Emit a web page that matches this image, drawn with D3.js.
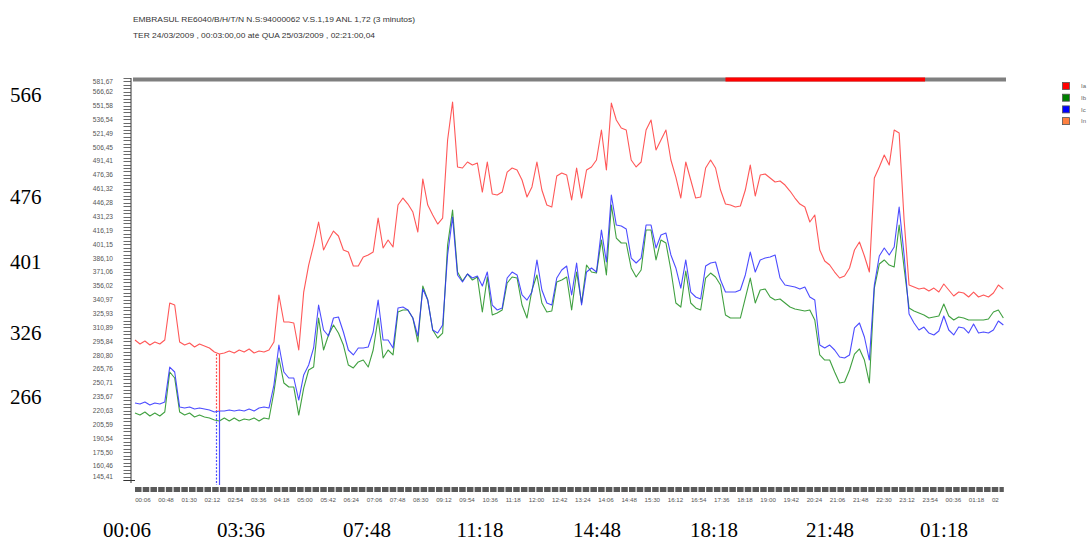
<!DOCTYPE html>
<html>
<head>
<meta charset="utf-8">
<script src="https://cdn.jsdelivr.net/npm/d3@7/dist/d3.min.js"></script>
<style>
  html, body { margin: 0; padding: 0; background: #fff; }
  svg { display: block; }
</style>
</head>
<body>
<svg id="chart" width="1090" height="543"></svg>
<script>
// Sample times in minutes after 00:00 on 24/03 (one sample every 9 minutes)
const times = d3.range(3, 1579, 9);

// Phase currents (A)
const ia = [
  297.3, 293.0, 296.2, 291.9, 295.2, 293.0, 297.3, 337.5, 335.3, 295.2,
  291.9, 294.1, 289.7, 293.0, 290.8, 288.7, 284.3, 282.1, 283.2, 285.4,
  283.2, 286.5, 284.3, 287.6, 283.2, 285.4, 284.3, 286.5, 295.2, 346.2,
  316.9, 316.9, 315.8, 286.5, 349.4, 378.7, 400.4, 425.4, 395.0, 405.9,
  415.6, 410.2, 395.0, 392.8, 377.6, 377.6, 387.4, 389.6, 392.8, 429.7,
  397.2, 405.9, 398.3, 443.8, 451.4, 444.9, 436.2, 414.5, 472.1, 443.8,
  433.0, 423.2, 429.7, 514.4, 555.6, 485.1, 484.0, 490.5, 487.2, 489.4,
  457.9, 490.5, 455.8, 454.7, 457.9, 479.6, 484.0, 481.8, 471.0, 452.5,
  463.4, 490.5, 460.1, 443.8, 441.7, 475.3, 478.6, 476.4, 449.3, 484.0,
  451.4, 481.8, 485.1, 492.7, 525.2, 481.8, 554.5, 536.1, 527.4, 525.2,
  492.7, 485.1, 490.5, 525.2, 536.1, 503.5, 514.4, 525.2, 492.7, 474.2,
  451.4, 490.5, 471.0, 451.4, 452.5, 484.0, 492.7, 484.0, 460.1, 444.9,
  443.8, 441.7, 442.8, 460.1, 487.2, 453.6, 476.4, 477.5, 473.1, 468.8,
  469.9, 465.5, 459.0, 451.4, 444.9, 441.7, 425.4, 433.0, 395.0, 383.1,
  378.7, 371.1, 364.6, 366.8, 375.5, 395.0, 403.7, 388.5, 371.1, 473.1,
  485.1, 498.1, 487.2, 525.2, 521.9, 427.6, 357.0, 354.8, 352.6, 353.7,
  350.5, 353.7, 349.4, 358.1, 351.6, 345.1, 349.4, 348.3, 344.0, 349.4,
  344.0, 346.2, 344.0, 348.3, 357.0, 352.6
];
const ib = [
  218.1, 215.9, 219.2, 214.9, 218.1, 214.9, 219.2, 262.6, 256.1, 219.2,
  215.9, 218.1, 213.8, 215.9, 213.8, 212.7, 210.5, 209.4, 212.7, 209.4,
  212.7, 209.4, 211.6, 210.5, 212.7, 209.4, 212.7, 211.6, 240.9, 277.8,
  250.7, 246.3, 246.3, 215.9, 245.2, 264.8, 268.0, 321.2, 286.5, 302.8,
  313.6, 304.9, 291.9, 270.2, 267.0, 273.5, 275.6, 268.0, 286.5, 321.2,
  277.8, 286.5, 281.1, 327.7, 329.9, 329.9, 321.2, 295.2, 355.9, 340.7,
  308.2, 299.5, 304.9, 400.4, 438.4, 371.1, 361.4, 369.0, 362.4, 365.7,
  327.7, 365.7, 324.5, 326.6, 329.9, 359.2, 365.7, 364.6, 335.3, 321.2,
  351.6, 367.9, 337.5, 327.7, 328.8, 360.3, 362.4, 365.7, 329.9, 371.1,
  337.5, 378.7, 371.1, 370.0, 405.9, 367.9, 443.8, 408.0, 402.6, 402.6,
  375.5, 365.7, 373.3, 416.7, 416.7, 384.2, 405.9, 402.6, 373.3, 337.5,
  333.1, 372.2, 337.5, 332.1, 329.9, 364.6, 370.0, 365.7, 357.0, 324.5,
  321.2, 321.2, 321.2, 342.9, 364.6, 337.5, 351.6, 352.6, 344.0, 340.7,
  341.8, 337.5, 333.1, 331.0, 329.9, 328.8, 329.9, 319.0, 281.1, 275.6,
  275.6, 262.6, 250.7, 251.8, 264.8, 282.1, 287.6, 275.6, 250.7, 353.7,
  379.8, 384.2, 378.7, 376.6, 422.1, 375.5, 332.1, 328.8, 326.6, 324.5,
  321.2, 322.3, 323.4, 336.4, 323.4, 319.0, 322.3, 321.2, 319.0, 319.0,
  319.0, 319.0, 320.1, 327.7, 329.9, 321.2
];
const ic = [
  229.0, 227.9, 230.1, 226.8, 229.0, 227.9, 230.1, 268.0, 262.6, 224.6,
  223.5, 224.6, 222.4, 223.5, 222.4, 221.4, 219.2, 220.3, 220.3, 221.4,
  220.3, 221.4, 220.3, 222.4, 220.3, 223.5, 224.6, 223.5, 248.5, 291.9,
  262.6, 256.1, 256.1, 232.2, 259.4, 270.2, 288.7, 335.3, 308.2, 301.7,
  321.2, 322.3, 306.0, 286.5, 281.1, 288.7, 288.7, 289.7, 306.0, 340.7,
  297.3, 297.3, 288.7, 332.1, 333.1, 329.9, 321.2, 301.7, 352.6, 340.7,
  308.2, 304.9, 313.6, 389.6, 430.8, 367.9, 360.3, 369.0, 364.6, 366.8,
  355.9, 371.1, 335.3, 329.9, 332.1, 364.6, 371.1, 367.9, 346.2, 340.7,
  349.4, 384.2, 351.6, 337.5, 335.3, 364.6, 373.3, 377.6, 346.2, 380.9,
  335.3, 371.1, 375.5, 371.1, 416.7, 382.0, 454.7, 422.1, 421.0, 417.8,
  386.3, 380.9, 386.3, 422.1, 422.1, 397.2, 411.3, 413.4, 389.6, 375.5,
  353.7, 384.2, 349.4, 344.0, 341.8, 377.6, 380.9, 382.0, 362.4, 349.4,
  349.4, 349.4, 351.6, 367.9, 392.8, 371.1, 384.2, 386.3, 387.4, 389.6,
  364.6, 357.0, 355.9, 354.8, 352.6, 354.8, 344.0, 340.7, 291.9, 288.7,
  291.9, 286.5, 278.9, 277.8, 281.1, 310.4, 315.8, 300.6, 275.6, 357.0,
  388.5, 397.2, 389.6, 398.3, 441.7, 389.6, 325.5, 315.8, 308.2, 311.4,
  304.9, 302.8, 307.1, 323.4, 308.2, 302.8, 311.4, 310.4, 304.9, 314.7,
  304.9, 306.0, 304.9, 308.2, 318.0, 313.6
];

// Axis ticks
const yTicks = [145.41, 160.46, 175.50, 190.54, 205.59, 220.63, 235.67, 250.71, 265.76, 280.80,
  295.84, 310.89, 325.93, 340.97, 356.02, 371.06, 386.10, 401.15, 416.19, 431.23,
  446.28, 461.32, 476.36, 491.41, 506.45, 521.49, 536.54, 551.58, 566.62, 581.67];
const xTickLabels = ["00:06","00:48","01:30","02:12","02:54","03:36","04:18","05:00","05:42","06:24",
  "07:06","07:48","08:30","09:12","09:54","10:36","11:18","12:00","12:42","13:24",
  "14:06","14:48","15:30","16:12","16:54","17:36","18:18","19:00","19:42","20:24",
  "21:06","21:48","22:30","23:12","23:54","00:36","01:18","02"];
const xTickTimes = d3.range(6, 1561, 42);

// Legend
const legendNames = ["Ia", "Ib", "Ic", "In"];
const legendColors = ["#ff0000", "#008000", "#0000ff", "#ff8040"];

// Header
const titleLines = [
  "EMBRASUL RE6040/B/H/T/N N.S:94000062  V.S.1,19 ANL 1,72 (3 minutos)",
  "TER 24/03/2009 , 00:03:00,00 até QUA 25/03/2009 , 02:21:00,04"
];

// Large annotation labels
const bigYLabels = ["566", "476", "401", "326", "266"];
const bigXLabels = ["00:06", "03:36", "07:48", "11:18", "14:48", "18:18", "21:48", "01:18"];

// Cursor marks and highlighted time window (minutes)
const cursorTimes = [150, 156];
const alarmWindow = [1074, 1436];

// ---------- layout ----------
const W = 1090, H = 543;
const plot = { left: 135, right: 1005, top: 78, bottom: 480 };
const bigYLabelPos = [95, 197, 262, 333, 397];
const bigXLabelPos = [127, 241, 367, 480, 597, 714, 830, 944];

const svg = d3.select("#chart");
svg.append("rect").attr("width", W).attr("height", H).attr("fill", "#fff");

const x = d3.scaleLinear().domain([3, 1581]).range([plot.left, plot.right]);
const y = d3.scaleLinear().domain([145.41, 581.67]).range([plot.bottom, plot.top]);

// header text
svg.selectAll("text.title").data(titleLines).join("text")
  .attr("class", "title")
  .attr("x", 133).attr("y", (d, i) => 22 + i * 15.5)
  .attr("font-family", "Liberation Sans, Arial, sans-serif")
  .attr("font-size", 7.6)
  .attr("fill", "#333")
  .attr("textLength", (d, i) => i === 0 ? 282 : 242)
  .attr("lengthAdjust", "spacingAndGlyphs")
  .text(d => d);

// top status bar
svg.append("rect").attr("x", 133).attr("y", 77.5).attr("width", 873).attr("height", 4).attr("fill", "#7f7f7f");
svg.append("rect").attr("x", x(alarmWindow[0])).attr("y", 77.5)
  .attr("width", x(alarmWindow[1]) - x(alarmWindow[0])).attr("height", 4).attr("fill", "#ff0000");

// y axis: comb of minor ticks plus labels
const yAxisX = 131;
const minorStep = (yTicks[1] - yTicks[0]) / 4;
const minorTicks = d3.range(0, 117).map(k => yTicks[0] + k * minorStep);
const gy = svg.append("g");
gy.append("line").attr("x1", yAxisX).attr("x2", yAxisX).attr("y1", plot.top).attr("y2", plot.bottom + 3)
  .attr("stroke", "#333").attr("stroke-width", 1);
gy.selectAll("line.minor").data(minorTicks).join("line")
  .attr("class", "minor")
  .attr("x1", 123.5).attr("x2", yAxisX)
  .attr("y1", d => Math.round(y(d)) + 0.5).attr("y2", d => Math.round(y(d)) + 0.5)
  .attr("stroke", "#444").attr("stroke-width", 0.8);
gy.append("line").attr("x1", 123.5).attr("x2", 135).attr("y1", plot.bottom + 0.5).attr("y2", plot.bottom + 0.5)
  .attr("stroke", "#333");
gy.selectAll("text").data(yTicks).join("text")
  .attr("x", 113).attr("y", d => Math.min(Math.max(y(d), 82), 477))
  .attr("dy", "0.35em")
  .attr("text-anchor", "end")
  .attr("font-family", "Liberation Sans, Arial, sans-serif")
  .attr("font-size", 6.6)
  .attr("fill", "#555")
  .text(d => d3.format(".2f")(d).replace(".", ","));

// x axis: dark tick band plus time labels
const gx = svg.append("g");
const bandTimes = d3.range(3, 1581, 14);
gx.selectAll("rect.band").data(bandTimes).join("rect")
  .attr("class", "band")
  .attr("x", d => x(d)).attr("y", 487)
  .attr("width", d => Math.max(0, Math.min(x(d + 14), plot.right) - x(d) - 1.2))
  .attr("height", 5)
  .attr("fill", "#5a5a5a");
gx.selectAll("text").data(xTickLabels).join("text")
  .attr("x", (d, i) => x(xTickTimes[i]) - 1.5)
  .attr("y", 502)
  .attr("font-family", "Liberation Sans, Arial, sans-serif")
  .attr("font-size", 6.2)
  .attr("fill", "#555")
  .text(d => d);

// series lines
const line = vals => d3.line().x((d, i) => x(times[i])).y(d => y(d))(vals);
const series = [
  { vals: ia, color: "#ff3a3a" },
  { vals: ib, color: "#1f8f1f" },
  { vals: ic, color: "#2d2dff" }
];
svg.append("g").selectAll("path").data(series).join("path")
  .attr("d", d => line(d.vals))
  .attr("fill", "none")
  .attr("stroke", d => d.color)
  .attr("stroke-width", 1.1)
  .attr("stroke-opacity", 0.85)
  .attr("stroke-linejoin", "round");

// cursor marks
const valueAt = (arr, t) => arr[d3.bisectLeft(times, t)];
cursorTimes.forEach((t, k) => {
  const cx = Math.round(x(t)) + 0.5;
  const dash = k === 0 ? "2,1.5" : null;
  svg.append("line").attr("x1", cx).attr("x2", cx)
    .attr("y1", y(valueAt(ia, t))).attr("y2", y(valueAt(ic, t)))
    .attr("stroke", "#ff5050").attr("stroke-width", 1.2).attr("stroke-dasharray", dash);
  svg.append("line").attr("x1", cx).attr("x2", cx)
    .attr("y1", y(valueAt(ic, t))).attr("y2", 485)
    .attr("stroke", "#5050ff").attr("stroke-width", 1.2).attr("stroke-dasharray", dash);
});

// legend
const lg = svg.append("g");
legendNames.forEach((name, i) => {
  const ly = 82.5 + i * 11.7;
  lg.append("rect").attr("x", 1062.5).attr("y", ly).attr("width", 7).attr("height", 7)
    .attr("fill", legendColors[i]).attr("stroke", "#555").attr("stroke-width", 0.8);
  lg.append("text").attr("x", 1081).attr("y", ly + 3.5).attr("dy", "0.35em")
    .attr("font-family", "Liberation Sans, Arial, sans-serif").attr("font-size", 6)
    .attr("fill", "#666").text(name);
});

// large annotation labels
svg.selectAll("text.bigy").data(bigYLabels).join("text")
  .attr("class", "bigy")
  .attr("x", 10).attr("y", (d, i) => bigYLabelPos[i])
  .attr("dy", "0.35em")
  .attr("font-family", "Liberation Serif, Times New Roman, serif")
  .attr("font-size", 21)
  .attr("fill", "#000")
  .text(d => d);
svg.selectAll("text.bigx").data(bigXLabels).join("text")
  .attr("class", "bigx")
  .attr("x", (d, i) => bigXLabelPos[i]).attr("y", 530)
  .attr("dy", "0.35em")
  .attr("text-anchor", "middle")
  .attr("font-family", "Liberation Serif, Times New Roman, serif")
  .attr("font-size", 21)
  .attr("fill", "#000")
  .text(d => d);
</script>
</body>
</html>
